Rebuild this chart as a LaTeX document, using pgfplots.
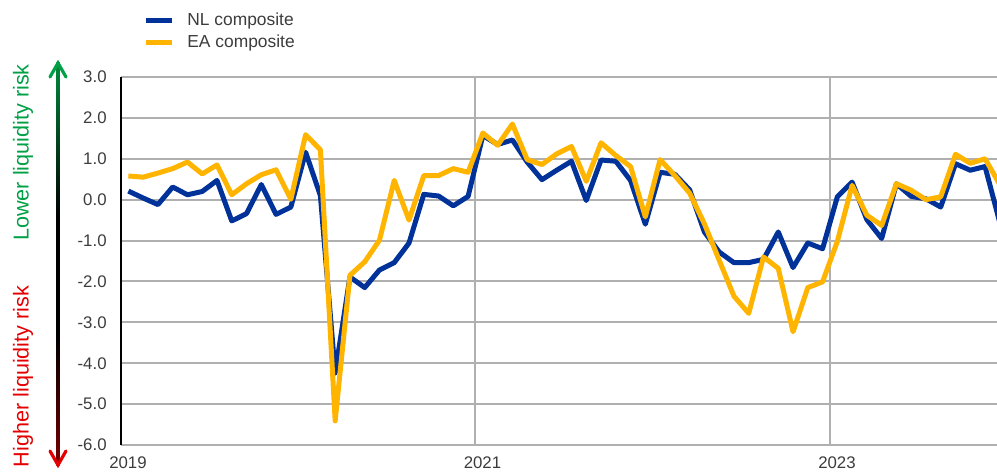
\documentclass[border=0pt]{standalone}
\usepackage{fontspec}
\setmainfont{Liberation Sans}
\usepackage{pgfplots}
\usepackage{pgfplotstable}
\pgfplotsset{compat=1.18}
\usetikzlibrary{calc}
\definecolor{nlblue}{RGB}{0,50,153}
\definecolor{eayellow}{RGB}{255,180,0}
\definecolor{gridgray}{RGB}{176,176,176}
\definecolor{riskgreen}{RGB}{0,160,70}
\definecolor{riskred}{RGB}{228,0,0}
\definecolor{txt}{RGB}{60,60,60}
\pgfdeclareverticalshading{riskshade}{100bp}{color(0bp)=(riskred); color(11bp)=(riskred); color(41bp)=(black); color(56bp)=(black); color(78bp)=(riskgreen); color(100bp)=(riskgreen)}

\pgfplotstableread{
x nl ea
0.5 0.21 0.58
1.5 0.04 0.55
2.5 -0.12 0.65
3.5 0.31 0.76
4.5 0.12 0.92
5.5 0.20 0.63
6.5 0.47 0.85
7.5 -0.52 0.12
8.5 -0.34 0.39
9.5 0.37 0.61
10.5 -0.36 0.73
11.5 -0.18 0.01
12.5 1.16 1.59
13.5 0.10 1.22
14.5 -4.24 -5.41
15.5 -1.89 -1.85
16.5 -2.15 -1.52
17.5 -1.72 -0.99
18.5 -1.54 0.47
19.5 -1.06 -0.50
20.5 0.13 0.59
21.5 0.09 0.59
22.5 -0.15 0.76
23.5 0.08 0.67
24.5 1.57 1.63
25.5 1.35 1.33
26.5 1.46 1.85
27.5 0.92 0.98
28.5 0.49 0.86
29.5 0.72 1.12
30.5 0.94 1.30
31.5 -0.02 0.45
32.5 0.97 1.39
33.5 0.94 1.08
34.5 0.47 0.81
35.5 -0.60 -0.42
36.5 0.67 0.98
37.5 0.62 0.59
38.5 0.24 0.16
39.5 -0.79 -0.59
40.5 -1.28 -1.48
41.5 -1.54 -2.36
42.5 -1.54 -2.78
43.5 -1.46 -1.40
44.5 -0.79 -1.68
45.5 -1.66 -3.23
46.5 -1.06 -2.15
47.5 -1.20 -2.01
48.5 0.07 -1.02
49.5 0.43 0.35
50.5 -0.49 -0.38
51.5 -0.95 -0.63
52.5 0.39 0.39
53.5 0.08 0.23
54.5 0.02 0.00
55.5 -0.18 0.07
56.5 0.88 1.11
57.5 0.72 0.89
58.5 0.81 1.00
59.5 -0.56 0.37
}\data

\begin{document}
\begin{tikzpicture}
\begin{axis}[
  at={(60.5pt,13.5pt)}, anchor=south west,
  scale only axis, width=438pt, height=184pt,
  xmin=0, xmax=59.31, ymin=-6, ymax=3,
  axis line style={draw=none},
  clip mode=individual,
  ytick={-6,-5,...,3},
  yticklabels={{-6.0},{-5.0},{-4.0},{-3.0},{-2.0},{-1.0},{0.0},{1.0},{2.0},{3.0}},
  xtick={0,24,48},
  xticklabels={2019,2021,2023},
  major tick length=0pt,
  ymajorgrids, xmajorgrids,
  grid style={gridgray, line width=1pt},
  tick label style={font=\fontsize{8.4}{10}\selectfont, text=txt},
  yticklabel style={anchor=east, inner sep=0pt, xshift=-7pt},
  xticklabel style={anchor=north, inner sep=0pt, xshift=3.5pt, yshift=-5.5pt},
  legend style={draw=none, fill=none, at={(0.0251,1.18)}, anchor=north west,
    font=\fontsize{8.7}{10}\selectfont, text=txt, inner sep=0pt, row sep=2pt,
    nodes={inner sep=0.5pt, text height=6.5pt, text depth=1.5pt}},
  legend cell align=left,
  legend image code/.code={\draw[#1, line width=2.5pt] (0pt,0pt) -- (13pt,0pt);},
  /tikz/every even column/.append style={column sep=0pt},
]
\addplot[nlblue, line width=2.5pt, line join=round] table[x=x, y=nl] {\data};
\addlegendentry{\hspace{6pt}NL composite}
\addplot[eayellow, line width=2.5pt, line join=round] table[x=x, y=ea] {\data};
\addlegendentry{\hspace{6pt}EA composite}
\draw[black, line width=1pt] (axis cs:0,-6) -- (axis cs:0,3);
\end{axis}
% risk arrow
\shade[shading=riskshade] (28.2pt,3.5pt) rectangle (29.8pt,204.5pt);
\draw[riskgreen, line width=1.6pt, line cap=round, line join=miter] (25pt,197.5pt) -- (29pt,204.5pt) -- (33pt,197.5pt);
\draw[riskred, line width=1.6pt, line cap=round, line join=miter] (25pt,10.5pt) -- (29pt,3.5pt) -- (33pt,10.5pt);
\node[rotate=90, text=riskgreen, font=\fontsize{10.8}{12}\selectfont, inner sep=0pt] at (11.5pt,159.75pt) {Lower liquidity risk};
\node[rotate=90, text=riskred, font=\fontsize{10.8}{12}\selectfont, inner sep=0pt] at (11.5pt,47.75pt) {Higher liquidity risk};
\pgfresetboundingbox
\path[use as bounding box] (0,0) rectangle (498.5pt,236pt);
\end{tikzpicture}
\end{document}
